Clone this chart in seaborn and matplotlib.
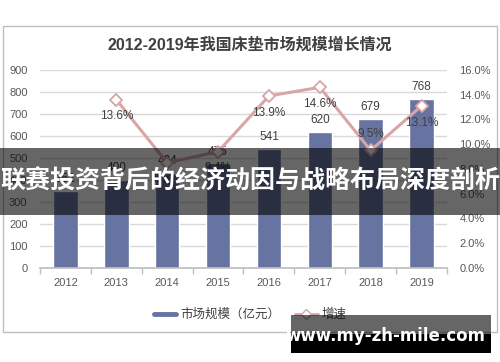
import matplotlib
matplotlib.use('Agg')
import matplotlib.pyplot as plt
import seaborn as sns
from matplotlib.lines import Line2D
from matplotlib.patches import Rectangle
from matplotlib.ticker import FuncFormatter, FixedLocator

# 数据
years = ['2012', '2013', '2014', '2015', '2016', '2017', '2018', '2019']
market_size = [352, 400, 434, 475, 541, 620, 679, 768]
growth_years = ['2013', '2014', '2015', '2016', '2017', '2018', '2019']
growth = [13.6, 8.5, 9.4, 13.9, 14.6, 9.5, 13.1]
label_side = ['below', 'below', 'below', 'below', 'below', 'above', 'below']

bar_color = '#6773A0'
line_color = '#D9A6A6'
text_color = '#595959'

sns.set_theme(style='white')
plt.rcParams['font.family'] = ['Liberation Sans', 'Noto Sans CJK SC', 'DejaVu Sans']

fig = plt.figure(figsize=(5, 3.62), dpi=100)
ax = fig.add_axes([0.08, 0.2597, 0.814, 0.547])

sns.barplot(x=years, y=market_size, color=bar_color, saturation=1, width=0.48, ax=ax)
ax.set_ylim(0, 900)
ax.set_yticks(range(0, 901, 100))
ax.set_xlim(-0.5, 7.5)
ax.grid(axis='y', color='#D9D9D9', lw=1)
ax.set_axisbelow(True)
ax.set_xlabel('')
ax.set_ylabel('')
for s in ['left', 'right', 'top']:
    ax.spines[s].set_visible(False)
ax.spines['bottom'].set_color('#BFBFBF')
ax.tick_params(axis='x', which='major', length=0, pad=7, labelsize=8, labelcolor=text_color)
ax.tick_params(axis='y', length=0, pad=9, labelsize=8, labelcolor=text_color)
ax.xaxis.set_minor_locator(FixedLocator([i - 0.5 for i in range(len(years) + 1)]))
ax.tick_params(axis='x', which='minor', length=4, color='#BFBFBF', bottom=True)
ax.bar_label(ax.containers[0], padding=4, fontsize=8.5, color='#404040')

# 增速折线
ax2 = ax.twinx()
sns.pointplot(x=growth_years, y=growth, order=years, ax=ax2, color=line_color,
              markers='D', errorbar=None, linewidth=2.2, markersize=6,
              markerfacecolor='white', markeredgecolor=line_color, markeredgewidth=1.3)
ax2.set_xlim(-0.5, 7.5)
ax2.set_ylim(0, 16)
ax2.set_yticks(range(0, 17, 2))
ax2.yaxis.set_major_formatter(FuncFormatter(lambda v, p: f'{v:.1f}%'))
ax2.tick_params(axis='y', length=0, pad=9, labelsize=8, labelcolor=text_color)
ax2.set_ylabel('')
ax2.set_xlabel('')
for s in ax2.spines.values():
    s.set_visible(False)

for y, v, side in zip(growth_years, growth, label_side):
    off = 12 if side == 'above' else -12
    ax2.annotate(f'{v}%', (years.index(y), v), xytext=(0, off), textcoords='offset points',
                 ha='center', va='center', fontsize=8.5, color='#404040')

# 标题和外框
fig.text(0.5, 1 - 45 / 362, '2012-2019年我国床垫市场规模增长情况', ha='center', va='center',
         fontsize=11.5, fontweight='bold', color='#404040')
fig.add_artist(Rectangle((0.006, 0.083), 0.988, 0.845, transform=fig.transFigure,
                         fill=False, ec='#BFBFBF', lw=1))

# 图例
handles = [Line2D([], [], color=bar_color, lw=3.5),
           Line2D([], [], color=line_color, lw=2, marker='D', markersize=5,
                  markerfacecolor='white', markeredgecolor=line_color)]
fig.legend(handles, ['市场规模（亿元）', '增速'], loc='center', bbox_to_anchor=(0.5, 1 - 315 / 362),
           ncol=2, frameon=False, fontsize=9, handlelength=1.8, handletextpad=0.3,
           columnspacing=1.2, labelcolor='#404040')

# 横幅
fig.add_artist(Rectangle((0, 1 - 215 / 362), 1, 67 / 362, transform=fig.transFigure,
                         fc='black', alpha=0.6, ec='none', zorder=10))
fig.text(0.5, 1 - 182 / 362, '联赛投资背后的经济动因与战略布局深度剖析', ha='center', va='center',
         fontsize=18, fontweight='bold', color='white', family=['Noto Sans CJK SC'], zorder=11)

# 水印
fig.add_artist(Rectangle((291 / 500, 1 - 334 / 362), 200 / 500, 19 / 362, transform=fig.transFigure,
                         fc='black', alpha=0.6, ec='none', zorder=10))
fig.add_artist(Rectangle((291 / 500, 1 - 353 / 362), 200 / 500, 19 / 362, transform=fig.transFigure,
                         fc='black', ec='none', zorder=10))
fig.text(385 / 500, 1 - 336 / 362, 'www.my-zh-mile.com', ha='center', va='center',
         fontsize=12, fontweight='bold', color='white', family=['DejaVu Sans'], zorder=11)

fig.savefig('out.png', dpi=100)
